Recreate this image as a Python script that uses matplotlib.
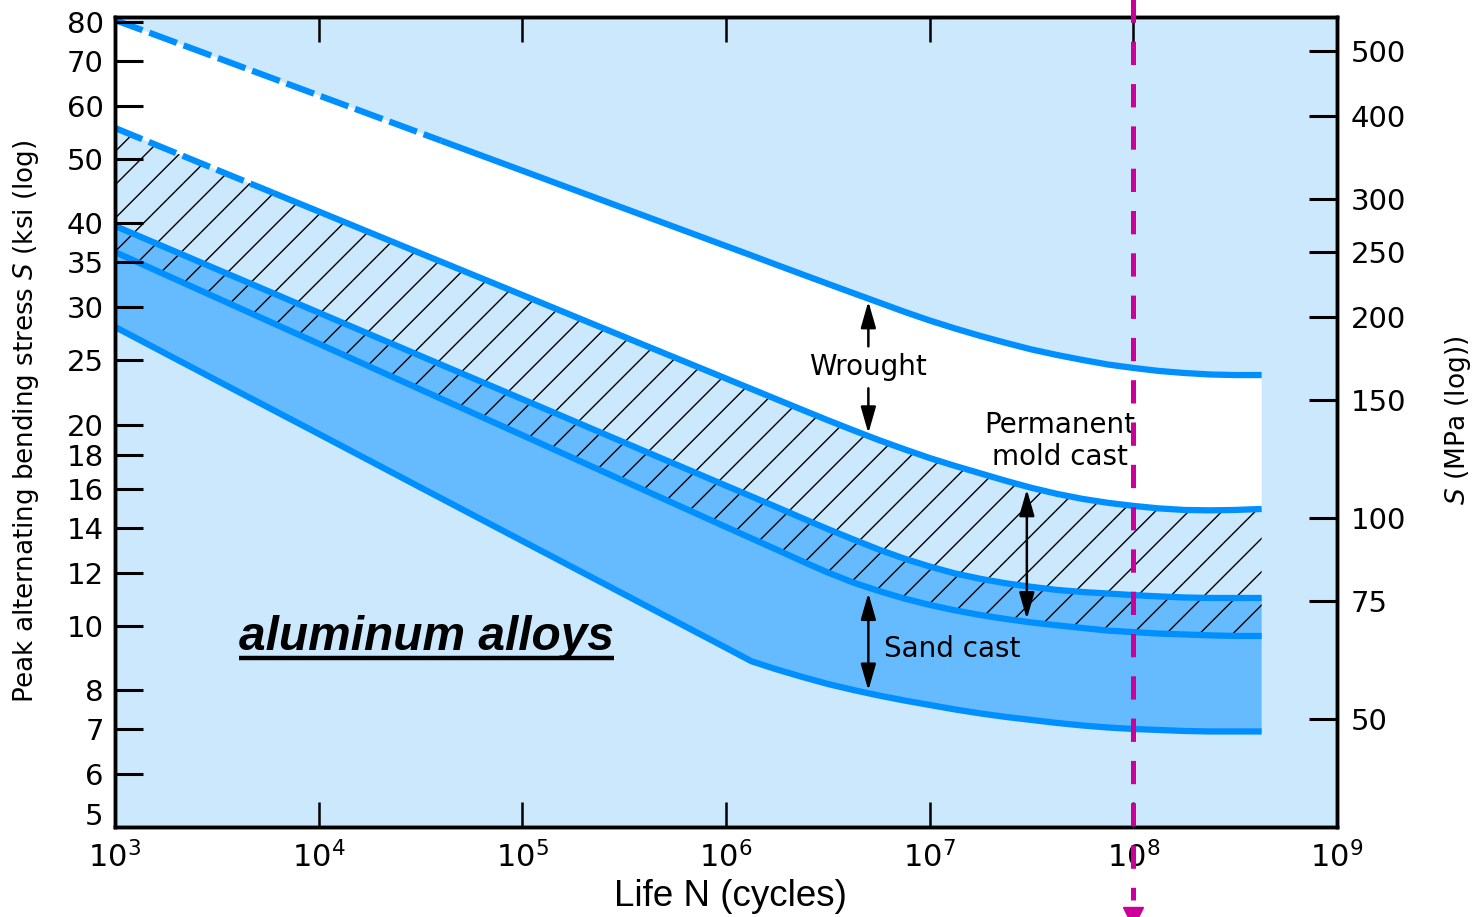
import numpy as np
import matplotlib
matplotlib.use("Agg")
import matplotlib.pyplot as plt
from matplotlib.ticker import NullLocator
from matplotlib.transforms import blended_transform_factory

# ---- data -----------------------------------------------------------------
# log10 of life N (cycles), shared by every boundary curve
log_cycles = np.array([3.0, 3.5, 4.0, 4.5, 5.0, 5.5, 6.0, 6.125, 6.25, 6.375,
                       6.5, 6.625, 6.75, 6.875, 7.0, 7.125, 7.25, 7.375, 7.5,
                       7.625, 7.75, 7.875, 8.0, 8.125, 8.25, 8.375, 8.5, 8.63])

# peak alternating bending stress S (ksi) along each band boundary
wrought_upper = [80.65, 70.85, 62.20, 54.63, 47.99, 42.14, 37.01, 35.83,
                 34.67, 33.56, 32.49, 31.46, 30.47, 29.51, 28.63, 27.85,
                 27.14, 26.50, 25.91, 25.42, 24.99, 24.60, 24.31, 24.06,
                 23.89, 23.77, 23.72, 23.72]
wrought_lower = [55.59, 48.13, 41.69, 36.09, 31.26, 27.06, 23.44, 22.61,
                 21.81, 21.04, 20.30, 19.61, 18.96, 18.37, 17.82, 17.34,
                 16.90, 16.47, 16.08, 15.75, 15.48, 15.27, 15.11, 14.98,
                 14.90, 14.88, 14.90, 14.95]
sand_upper = [39.66, 34.16, 29.42, 25.34, 21.83, 18.80, 16.20, 15.61,
              15.04, 14.48, 13.95, 13.46, 13.00, 12.60, 12.26, 11.97,
              11.75, 11.57, 11.43, 11.31, 11.23, 11.17, 11.11, 11.06,
              11.02, 11.00, 11.00, 11.00]
mold_lower = [36.25, 30.95, 26.43, 22.57, 19.28, 16.46, 14.05, 13.51,
              12.99, 12.48, 12.01, 11.60, 11.27, 10.98, 10.74, 10.54,
              10.37, 10.23, 10.11, 10.01, 9.92, 9.83, 9.78, 9.73,
              9.70, 9.67, 9.65, 9.65]
sand_lower = [28.00, 23.28, 19.37, 16.10, 13.39, 11.14, 9.265, 8.844,
              8.597, 8.378, 8.178, 8.010, 7.860, 7.726, 7.607, 7.490,
              7.388, 7.299, 7.224, 7.150, 7.088, 7.039, 7.003, 6.979,
              6.955, 6.943, 6.943, 6.943]

# curves are extrapolated (dashed) below these lives
wrought_dash_end = 4.0e4
mold_dash_end = 6.0e3

# reference life marked by the vertical line
reference_life = 1e8

# axis ticks
decades = [3, 4, 5, 6, 7, 8, 9]
ksi_ticks = [6, 7, 8, 10, 12, 14, 16, 18, 20, 25, 30, 35, 40, 50, 60, 70, 80]
mpa_ticks = [50, 75, 100, 150, 200, 250, 300, 400, 500]
KSI_TO_MPA = 6.894757
S_MIN, S_MAX = 5.0, 81.5

# ---- style ------------------------------------------------------------------
plt.rcParams['font.family'] = ['DejaVu Sans']
plt.rcParams['mathtext.fontset'] = 'dejavusans'
plt.rcParams['hatch.linewidth'] = 1.0

LIGHT = '#CCE8FC'
MID = '#66BBFF'
LINE = '#008FFF'
MAGENTA = '#CC0099'

fig = plt.figure(figsize=(14.83, 9.17), dpi=100)
ax = fig.add_axes([0.07755, 0.09847, 0.82400, 0.88299])
ax.set_facecolor(LIGHT)
ax.set_xscale('log')
ax.set_yscale('log')
ax.set_xlim(10.0 ** decades[0], 10.0 ** decades[-1])
ax.set_ylim(S_MIN, S_MAX)
ax.set_axisbelow(False)

N = 10.0 ** log_cycles


def value_at(values, n):
    """Log-log interpolation of a boundary curve at life n."""
    return 10 ** np.interp(np.log10(n), log_cycles, np.log10(values))


def split_curve(values, n_split):
    """Split a curve into its dashed (short life) and solid parts."""
    values = np.asarray(values, dtype=float)
    s_split = value_at(values, n_split)
    left = N < n_split
    dashed = (np.r_[N[left], n_split], np.r_[values[left], s_split])
    solid = (np.r_[n_split, N[~left]], np.r_[s_split, values[~left]])
    return dashed, solid


# bands
ax.fill_between(N, wrought_lower, wrought_upper, facecolor='white', lw=0,
                zorder=1)
ax.fill_between(N, sand_lower, sand_upper, facecolor=MID, lw=0, zorder=1.2)
ax.fill_between(N, mold_lower, wrought_lower, facecolor='none',
                edgecolor='black', hatch='/', lw=0, zorder=1.4)

# boundary curves
line_kw = dict(color=LINE, lw=4.5, solid_capstyle='butt',
               dash_capstyle='butt', solid_joinstyle='round', zorder=2)
for values, dash_end in ((wrought_upper, wrought_dash_end),
                         (wrought_lower, mold_dash_end)):
    (xd, yd), (xs, ys) = split_curve(values, dash_end)
    ax.plot(xd, yd, ls=(0, (4.7, 1.15)), **line_kw)
    ax.plot(xs, ys, **line_kw)
for values in (sand_upper, mold_lower, sand_lower):
    ax.plot(N, values, **line_kw)

# ---- axes, ticks ------------------------------------------------------------
for sp in ax.spines.values():
    sp.set_linewidth(2.5)

ax.set_xticks(10.0 ** np.array(decades), [rf'$10^{{{d}}}$' for d in decades])
ax.xaxis.set_minor_locator(NullLocator())
ax.tick_params(axis='x', direction='in', top=True, bottom=True, length=18,
               width=1.8, pad=10, labelsize=22)

ax.set_yticks(ksi_ticks, [str(v) for v in ksi_ticks])
ax.yaxis.set_minor_locator(NullLocator())
ax.tick_params(axis='y', direction='in', left=True, right=False, length=20,
               width=2.2, pad=8, labelsize=21)
ax.annotate(str(int(S_MIN)), xy=(0, S_MIN),
            xycoords=blended_transform_factory(ax.transAxes, ax.transData),
            xytext=(-12, 10), textcoords='offset pixels', ha='right',
            va='center', fontsize=21)

ax2 = ax.twinx()
ax2.set_yscale('log')
ax2.set_ylim(S_MIN * KSI_TO_MPA, S_MAX * KSI_TO_MPA)
ax2.set_yticks(mpa_ticks, [str(v) for v in mpa_ticks])
ax2.yaxis.set_minor_locator(NullLocator())
ax2.tick_params(axis='y', direction='in', length=20, width=2.2, pad=10,
                labelsize=21)
for sp in ax2.spines.values():
    sp.set_linewidth(2.5)

# ---- annotations ------------------------------------------------------------
arrow_kw = dict(arrowstyle='-|>,head_length=0.8,head_width=0.23', lw=1.8,
                color='black', mutation_scale=20, shrinkA=3, shrinkB=2)
dbl_kw = dict(arrow_kw, arrowstyle='<|-|>,head_length=0.8,head_width=0.23')

n_w = 5e6
top_w = value_at(wrought_upper, n_w)
bot_w = value_at(wrought_lower, n_w)
mid_w = np.sqrt(top_w * bot_w)
ax.annotate('Wrought', xy=(n_w, top_w), xytext=(n_w, mid_w), ha='center',
            va='center', fontsize=20, arrowprops=arrow_kw, zorder=5)
ax.annotate('Wrought', xy=(n_w, bot_w), xytext=(n_w, mid_w), ha='center',
            va='center', fontsize=20, color='none', arrowprops=arrow_kw,
            zorder=5)

n_p = 3e7
ax.annotate('', xy=(n_p, value_at(mold_lower, n_p)),
            xytext=(n_p, value_at(wrought_lower, n_p)),
            arrowprops=dict(dbl_kw, shrinkA=2, shrinkB=2), zorder=5)
ax.text(4.36e7, 18.9, 'Permanent\nmold cast', ha='center', va='center',
        multialignment='center', fontsize=20, zorder=5)

n_s = 5e6
ax.annotate('', xy=(n_s, value_at(sand_lower, n_s)),
            xytext=(n_s, value_at(mold_lower, n_s)),
            arrowprops=dict(dbl_kw, shrinkA=4, shrinkB=2), zorder=5)
ax.text(6.0e6, 9.22, 'Sand cast', ha='left', va='center', fontsize=20,
        zorder=5)

title_pos = (3.37e4, 9.18)
alu = ax.text(*title_pos, 'aluminum alloys', family='Liberation Sans',
              fontweight='bold', fontstyle='italic', fontsize=34.5,
              ha='center', va='baseline', zorder=5)

# axis titles
fig.text(26 / 1483, 1 - 421 / 917,
         'Peak alternating bending stress $S$ (ksi (log)', rotation=90,
         ha='center', va='center', fontsize=18.8)
fig.text(1458 / 1483, 1 - 420 / 917, '$S$ (MPa (log))', rotation=90,
         ha='center', va='center', fontsize=19)
fig.text(730 / 1483, 1 - 896 / 917, 'Life N (cycles)',
         family='Liberation Sans', fontsize=26.5, ha='center', va='center')

# vertical reference line at N = 1e8, running past the frame
vtrans = blended_transform_factory(ax2.transData, ax2.transAxes)
ax2.plot([reference_life, reference_life], [1.0346, -0.0905],
         transform=vtrans, color=MAGENTA, lw=3.6, ls=(0, (4.66, 3.8)),
         dash_capstyle='butt', clip_on=False, zorder=10)
ax2.plot([reference_life], [-0.1115], marker='v', ms=14, color=MAGENTA,
         transform=vtrans, clip_on=False, zorder=10)

# underline for the alloy label
fig.canvas.draw()
bb = alu.get_window_extent()
base_y = ax.transData.transform(title_pos)[1]
inv = ax.transAxes.inverted()
(x0, y0) = inv.transform((bb.x0, base_y - 8))
(x1, _) = inv.transform((bb.x1, base_y - 8))
ax.plot([x0, x1], [y0, y0], transform=ax.transAxes, color='black', lw=3.2,
        solid_capstyle='butt', zorder=5)

fig.savefig('out.png', dpi=100)
